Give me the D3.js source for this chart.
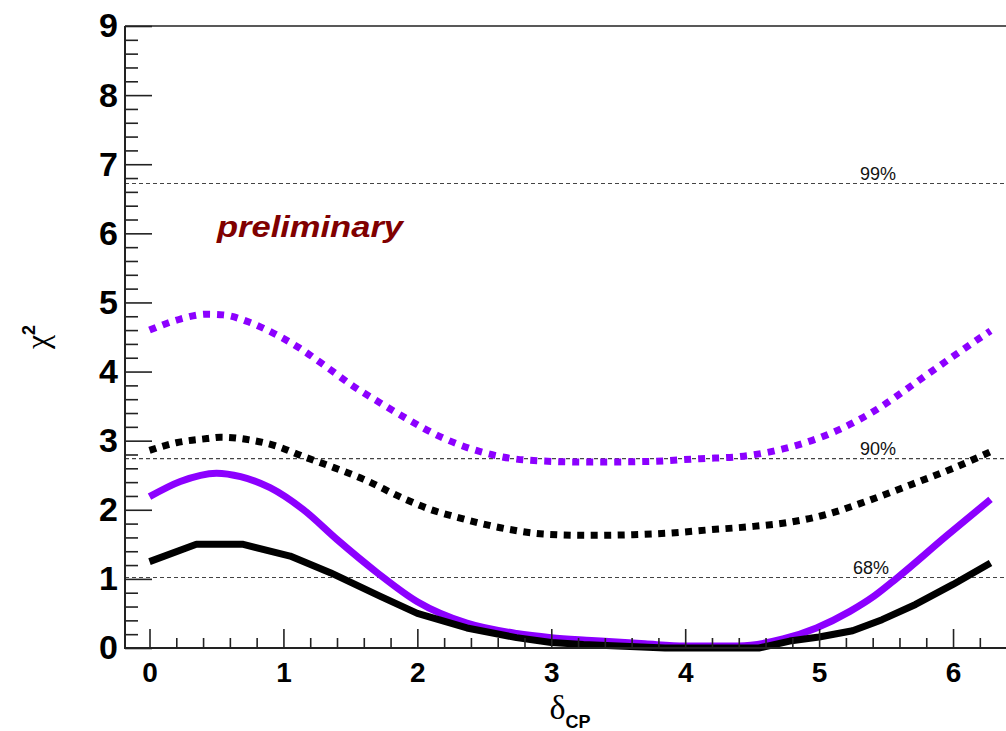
<!DOCTYPE html>
<html>
<head>
<meta charset="utf-8">
<script src="https://cdn.jsdelivr.net/npm/d3@7"></script>
<style>
  body { margin: 0; background: #fff; }
  svg { display: block; }
</style>
</head>
<body>
<div id="chart"></div>
<script>
// chi2 vs deltaCP curves
var blackSolidX = [0, 0.35, 0.7, 1.05, 1.35, 1.72, 2.0, 2.37, 2.74, 3.0, 3.24, 3.5, 3.85, 4.55, 4.78, 5.0, 5.25, 5.47, 5.72, 6.0, 6.28];
var blackSolidY = [1.25, 1.50, 1.50, 1.33, 1.09, 0.75, 0.50, 0.29, 0.15, 0.08, 0.05, 0.03, 0.0, 0.0, 0.10, 0.16, 0.25, 0.41, 0.63, 0.92, 1.23];

var violetSolidX = [0, 0.23, 0.5, 0.68, 0.9, 1.15, 1.4, 1.7, 2.0, 2.37, 2.74, 3.0, 3.3, 3.7, 4.0, 4.4, 4.73, 4.98, 5.23, 5.41, 5.58, 5.95, 6.28];
var violetSolidY = [2.19, 2.41, 2.53, 2.48, 2.32, 2.0, 1.57, 1.09, 0.67, 0.36, 0.21, 0.15, 0.11, 0.06, 0.03, 0.03, 0.13, 0.29, 0.53, 0.75, 1.01, 1.62, 2.15];

var blackDotX = [0, 0.2, 0.43, 0.53, 0.75, 0.95, 1.15, 1.35, 1.6, 1.89, 2.09, 2.32, 2.62, 2.94, 3.26, 3.61, 3.86, 4.18, 4.51, 4.78, 5.05, 5.35, 5.68, 6.0, 6.28];
var blackDotY = [2.86, 2.97, 3.03, 3.05, 3.01, 2.92, 2.77, 2.63, 2.44, 2.17, 2.01, 1.88, 1.74, 1.65, 1.63, 1.64, 1.66, 1.71, 1.76, 1.82, 1.93, 2.12, 2.36, 2.60, 2.84];

var violetDotX = [0, 0.23, 0.43, 0.55, 0.75, 0.92, 1.12, 1.32, 1.52, 1.72, 1.91, 2.19, 2.49, 2.81, 3.26, 3.74, 4.11, 4.41, 4.73, 5.15, 5.43, 5.7, 6.0, 6.28];
var violetDotY = [4.60, 4.76, 4.83, 4.82, 4.71, 4.56, 4.34, 4.07, 3.79, 3.55, 3.33, 3.04, 2.83, 2.72, 2.69, 2.70, 2.74, 2.77, 2.88, 3.16, 3.45, 3.81, 4.22, 4.59];

// confidence levels
var levelValues = [1.02, 2.74, 6.72];
var levelLabels = ["68%", "90%", "99%"];

var xTicks = [0, 1, 2, 3, 4, 5, 6];
var yTicks = [0, 1, 2, 3, 4, 5, 6, 7, 8, 9];

var width = 1006, height = 731;
var padLeft = 125, padBottom = 648, padTop = 26, padRight = 1020;
var violet = "#8c00ff";

var svg = d3.select("#chart").append("svg")
    .attr("width", width)
    .attr("height", height);

var x = d3.scaleLinear().domain([-0.183, 6.5]).range([padLeft, padRight]);
var y = d3.scaleLinear().domain([0, 9]).range([padBottom, padTop]);

var minorX = d3.range(0, 6.5, 0.2).filter(function(v){ return Math.abs(v - Math.round(v)) > 0.01; });
var minorY = d3.range(0, 9, 0.2).filter(function(v){ return Math.abs(v - Math.round(v)) > 0.01; });

// level lines
svg.append("g")
    .selectAll("line")
    .data(levelValues)
    .enter()
    .append("line")
    .attr("x1", padLeft)
    .attr("x2", width)
    .attr("y1", function(d){ return y(d); })
    .attr("y2", function(d){ return y(d); })
    .style("stroke", "#444")
    .style("stroke-width", 1.1)
    .style("stroke-dasharray", "4,3");

var labelX = [871, 878, 878];
svg.append("g")
    .selectAll("text")
    .data(levelValues)
    .enter()
    .append("text")
    .attr("x", function(d, i){ return labelX[i]; })
    .attr("y", function(d){ return y(d) - 4; })
    .attr("text-anchor", "middle")
    .style("font-family", "Liberation Sans, Arial, sans-serif")
    .style("font-size", "18px")
    .style("fill", "#111")
    .text(function(d, i){ return levelLabels[i]; });

// curves
var series = [
    { xs: violetDotX, ys: violetDotY, color: violet, dash: "7,7", curve: d3.curveMonotoneX },
    { xs: blackDotX, ys: blackDotY, color: "#000", dash: "7,6.5", curve: d3.curveMonotoneX },
    { xs: violetSolidX, ys: violetSolidY, color: violet, dash: null, curve: d3.curveMonotoneX },
    { xs: blackSolidX, ys: blackSolidY, color: "#000", dash: null, curve: d3.curveLinear }
];

series.forEach(function(s){
    var pts = s.xs.map(function(v, i){ return [v, s.ys[i]]; });
    var line = d3.line()
        .x(function(d){ return x(d[0]); })
        .y(function(d){ return y(d[1]); })
        .curve(s.curve);
    svg.append("path")
        .datum(pts)
        .attr("d", line)
        .style("fill", "none")
        .style("stroke", s.color)
        .style("stroke-width", 7)
        .style("stroke-dasharray", s.dash)
        .style("stroke-linejoin", "round");
});

// frame
svg.append("line")
    .attr("x1", padLeft).attr("x2", width)
    .attr("y1", padTop).attr("y2", padTop)
    .style("stroke", "#222").style("stroke-width", 1.5);

// y axis ticks (pointing inward)
function clean(g){ g.select(".domain").remove(); g.selectAll("line").style("stroke", "#222").style("stroke-width", 1.6); }

svg.append("g").attr("transform", "translate(" + padLeft + ",0)")
    .call(d3.axisRight(y).tickValues(yTicks).tickSize(27).tickFormat(""))
    .call(clean);
svg.append("g").attr("transform", "translate(" + padLeft + ",0)")
    .call(d3.axisRight(y).tickValues(minorY).tickSize(13).tickFormat(""))
    .call(clean);
svg.append("g").attr("transform", "translate(" + padLeft + ",0)")
    .call(d3.axisLeft(y).tickValues(yTicks).tickSize(0).tickPadding(7).tickFormat(d3.format("d")))
    .call(function(g){
        g.select(".domain").remove();
        g.selectAll("text")
            .style("font-family", "Liberation Sans, Arial, sans-serif")
            .style("font-weight", "bold")
            .style("font-size", "34px")
            .style("fill", "#000");
    });

// x axis ticks (pointing up)
svg.append("g").attr("transform", "translate(0," + padBottom + ")")
    .call(d3.axisTop(x).tickValues(xTicks).tickSize(19).tickFormat(""))
    .call(clean);
svg.append("g").attr("transform", "translate(0," + padBottom + ")")
    .call(d3.axisTop(x).tickValues(minorX).tickSize(10).tickFormat(""))
    .call(clean);
svg.append("g").attr("transform", "translate(0," + padBottom + ")")
    .call(d3.axisBottom(x).tickValues(xTicks).tickSize(0).tickPadding(14).tickFormat(d3.format("d")))
    .call(function(g){
        g.select(".domain").remove();
        g.selectAll("text")
            .style("font-family", "Liberation Sans, Arial, sans-serif")
            .style("font-weight", "bold")
            .style("font-size", "28px")
            .style("fill", "#000");
    });

// axis lines
svg.append("line")
    .attr("x1", padLeft).attr("x2", padLeft)
    .attr("y1", padTop).attr("y2", padBottom + 1)
    .style("stroke", "#222").style("stroke-width", 2);
svg.append("line")
    .attr("x1", padLeft).attr("x2", width)
    .attr("y1", padBottom).attr("y2", padBottom)
    .style("stroke", "#222").style("stroke-width", 2.2);

// axis titles
var xt = svg.append("text")
    .attr("x", 570)
    .attr("y", 719)
    .attr("text-anchor", "middle");
xt.append("tspan")
    .style("font-family", "Liberation Serif, Times New Roman, serif")
    .style("font-size", "34px")
    .text("δ");
xt.append("tspan")
    .attr("dy", 9)
    .style("font-family", "Liberation Sans, Arial, sans-serif")
    .style("font-weight", "bold")
    .style("font-size", "18px")
    .text("CP");

var yt = svg.append("text")
    .attr("transform", "translate(48," + ((padTop + padBottom) / 2) + ") rotate(-90)")
    .attr("text-anchor", "middle");
yt.append("tspan")
    .style("font-family", "Liberation Serif, Times New Roman, serif")
    .style("font-size", "32px")
    .text("χ");
yt.append("tspan")
    .attr("dy", -13)
    .style("font-family", "Liberation Sans, Arial, sans-serif")
    .style("font-weight", "bold")
    .style("font-size", "18px")
    .text("2");

// preliminary label
svg.append("text")
    .attr("x", 217)
    .attr("y", 237)
    .attr("textLength", 186)
    .attr("lengthAdjust", "spacingAndGlyphs")
    .style("font-family", "Liberation Sans, Arial, sans-serif")
    .style("font-weight", "bold")
    .style("font-style", "italic")
    .style("font-size", "30px")
    .style("fill", "#800000")
    .text("preliminary");
</script>
</body>
</html>
